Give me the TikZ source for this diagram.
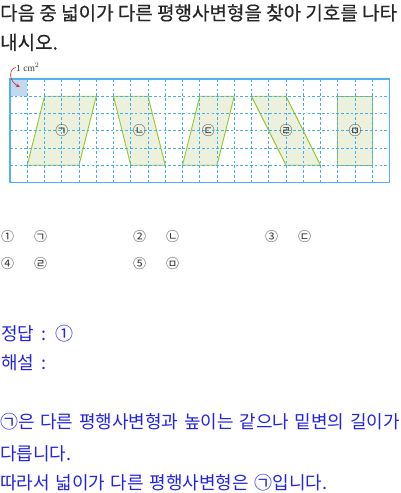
\documentclass[tikz,border=0pt]{standalone}
\usepackage{fontspec}
\setmainfont{Liberation Serif}
\newfontfamily\kr{Noto Sans CJK KR}
\newfontfamily\krb{Noto Sans CJK KR}[FakeBold=0.4]
\newfontfamily\krw{Noto Sans CJK KR}[WordSpace=1.4]
\usetikzlibrary{arrows.meta}
\definecolor{gridblue}{RGB}{70,175,230}
\definecolor{boxblue}{RGB}{80,180,235}
\definecolor{cellblue}{RGB}{192,216,240}
\definecolor{shapegreen}{RGB}{150,200,40}
\definecolor{shapefill}{RGB}{235,241,220}
\definecolor{ansblue}{RGB}{35,35,225}
\definecolor{arrowred}{RGB}{215,50,60}
\tikzset{
  txt/.style={anchor=base west, inner sep=0pt, font=\krb\fontsize{19}{22}\selectfont, text=black!85},
  choice/.style={anchor=base west, inner sep=0pt, font=\kr\fontsize{13}{15}\selectfont, text=black!80},
  ans/.style={anchor=base west, inner sep=0pt, font=\krw\fontsize{18}{21}\selectfont, text=ansblue},
  para/.style={draw=shapegreen, fill=shapefill, line width=0.9pt, line join=round},
  lbl/.style={inner sep=0pt, font=\kr\fontsize{13}{14}\selectfont, text=black!80},
  gridline/.style={draw=gridblue, line width=0.8pt, dash pattern=on 2.6pt off 2.2pt},
}
\begin{document}
\begin{tikzpicture}[x=1pt,y=-1pt]
\useasboundingbox (0,0) rectangle (400,493);
\node[txt] (q1) at (0,20) {다음 중 넓이가 다른 평행사변형을 찾아 기호를 나타};
\node[txt] (q2) at (0,49.5) {내시오.};
% grid
\begin{scope}[shift={(10,79)}, x=17.25pt, y=-17.25pt]
  \fill[cellblue] (0,0) rectangle (1,1);
  \draw[para] (2,1) -- (5,1) -- (4,5) -- (1,5) -- cycle;
  \draw[para] (6,1) -- (8,1) -- (9,5) -- (7,5) -- cycle;
  \draw[para] (11,1) -- (13,1) -- (12,5) -- (10,5) -- cycle;
  \draw[para] (14,1) -- (16,1) -- (18,5) -- (16,5) -- cycle;
  \draw[para] (19,1) -- (21,1) -- (21,5) -- (19,5) -- cycle;
  \foreach \i in {1,...,21} \draw[gridline] (\i,0) -- (\i,6);
  \foreach \j in {1,...,5} \draw[gridline] (0,\j) -- (22,\j);
  \draw[boxblue, line width=1.1pt] (0,0) rectangle (22,6);
  \node[lbl] (s1) at (3,3) {㉠};
  \node[lbl] (s2) at (7.5,3) {㉡};
  \node[lbl] (s3) at (11.5,3) {㉢};
  \node[lbl] (s4) at (16,3) {㉣};
  \node[lbl] (s5) at (20,3) {㉤};
  \coordinate (cell) at (0.5,0.5);
\end{scope}
\node[anchor=west, inner sep=0pt, font=\fontsize{9.5}{10}\selectfont, text=black!80] (unit) at (16,67.5) {1 cm$^2$};
\draw[arrowred, line width=0.7pt, -{Stealth[length=4pt,width=3.5pt]}] (unit.west) .. controls (9,68) and (8,81) .. (20,87);
% choices
\node[choice] (c1) at (1,241) {①\hspace{20pt}㉠};
\node[choice] (c2) at (133,241) {②\hspace{20pt}㉡};
\node[choice] (c3) at (265,241) {③\hspace{20pt}㉢};
\node[choice] (c4) at (1,268) {④\hspace{20pt}㉣};
\node[choice] (c5) at (133,268) {⑤\hspace{20pt}㉤};
% answer
\node[ans] (a1) at (1,340) {정답\hspace{7pt}:\hspace{9pt}①};
\node[ans] (a2) at (1,369.5) {해설\hspace{7pt}:};
\node[ans] (e1) at (0,428) {㉠은 다른 평행사변형과 높이는 같으나 밑변의 길이가};
\node[ans] (e2) at (0,460) {다릅니다.};
\node[ans] (e3) at (0,489) {따라서 넓이가 다른 평행사변형은 ㉠입니다.};
\end{tikzpicture}
\end{document}
